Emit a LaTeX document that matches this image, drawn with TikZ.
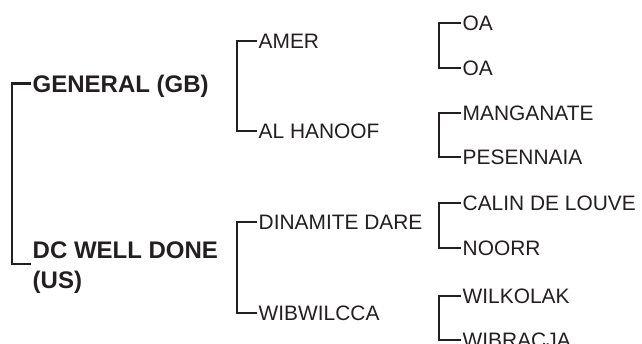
\documentclass[tikz,border=0pt]{standalone}
\usepackage{fontspec}
\setmainfont{Liberation Sans}
\definecolor{ink}{HTML}{231F20}
\begin{document}
\begin{tikzpicture}[x=1pt,y=-1pt,
  br/.style={draw=ink, line width=2.3pt},
  lab/.style={anchor=west, inner xsep=1.5pt, inner ysep=0pt, text=ink,
    font=\fontsize{20.9}{25}\selectfont, text height=14.9pt, text depth=0pt},
  blab/.style={lab, font=\fontsize{24}{30}\selectfont\bfseries, text height=17.2pt}]
\useasboundingbox (0,0) rectangle (642,344);
\clip (0,0) rectangle (642,344);
% level 1
\node[blab] (gb) at (31,83.5) {GENERAL (GB)};
\coordinate (dcpt) at (31,264);
\node[anchor=base west, inner sep=0pt, text=ink, align=left,
  font=\fontsize{24}{30}\selectfont\bfseries] (dc) at (32.5,288.6) {DC WELL DONE\\(US)};
\draw[br] (gb.west) -- ++(-19,0) |- (dcpt);
% level 2
\node[lab] (amer) at (257,41) {AMER};
\node[lab] (alh) at (257,131) {AL HANOOF};
\draw[br] (amer.west) -- ++(-20,0) |- (alh.west);
\node[lab] (din) at (257,222) {DINAMITE DARE};
\node[lab] (wib) at (257,313) {WIBWILCCA};
\draw[br] (din.west) -- ++(-20,0) |- (wib.west);
% level 3
\node[lab] (oa1) at (461,23) {OA};
\node[lab] (oa2) at (461,68) {OA};
\draw[br] (oa1.west) -- ++(-22,0) |- (oa2.west);
\node[lab] (man) at (461,113) {MANGANATE};
\node[lab] (pes) at (461,157) {PESENNAIA};
\draw[br] (man.west) -- ++(-22,0) |- (pes.west);
\node[lab] (cal) at (461,203) {CALIN DE LOUVE};
\node[lab] (noo) at (461,248) {NOORR};
\draw[br] (cal.west) -- ++(-22,0) |- (noo.west);
\node[lab] (wil) at (461,296) {WILKOLAK};
\node[lab] (wbr) at (461,340) {WIBRACJA};
\draw[br] (wil.west) -- ++(-22,0) |- (wbr.west);
\end{tikzpicture}
\end{document}
